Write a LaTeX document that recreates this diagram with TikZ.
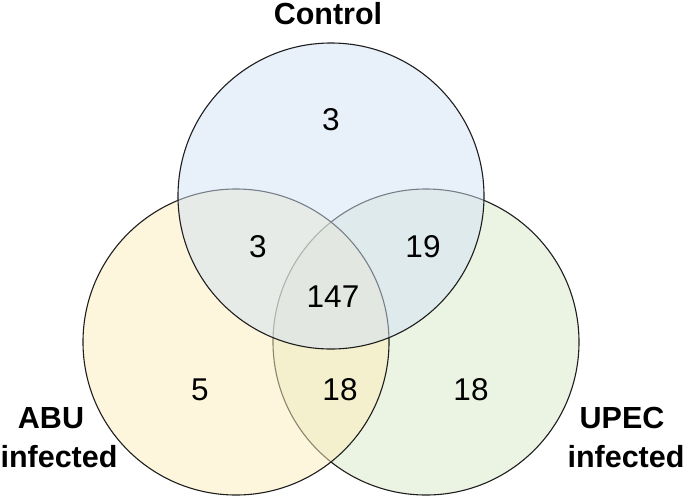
\documentclass[tikz,border=0pt]{standalone}
\usepackage{fontspec}
\setmainfont{Liberation Sans}
\usepackage{xcolor}
\usepackage{tikz}
\definecolor{ctlblue}{HTML}{D1E1F5}
\definecolor{abuyellow}{HTML}{FDEDB9}
\definecolor{upecgreen}{HTML}{D7E7C7}
\definecolor{rim}{HTML}{1E1E1E}
\tikzset{set/.style = {circle, draw=rim, line width=1.1pt, fill opacity=0.5, inner sep=0pt, minimum size=306pt}}

\begin{document}
\begin{tikzpicture}[x=1pt,y=-1pt,count/.style={font=\fontsize{31.5}{36}\selectfont,anchor=base},label node/.style={font=\bfseries\fontsize{30.5}{36}\selectfont,anchor=base}]
                    \useasboundingbox (0,0) rectangle (685,496);

                    \node[set, fill=upecgreen] (upec) at (426,342) {};
                    \node[set, fill=abuyellow] (abu) at (236,342) {};
                    \node[set, fill=ctlblue] (ctl) at (331,196) {};

                    \node[label node] (ctllab) at (328,24) {Control};
                    \node[label node] (abulab) at (51,428) {ABU};
                    \node[label node] (abuinf) at (59,467) {infected};
                    \node[label node] (upeclab) at (622,428) {UPEC};
                    \node[label node] (upecinf) at (626,467) {infected};

                    \node[count] (c) at (331,130) {3};
                    \node[count] (ca) at (258,257) {3};
                    \node[count] (cu) at (423,257) {19};
                    \node[count] (cau) at (333,307) {147};
                    \node[count] (a) at (200,400) {5};
                    \node[count] (au) at (340,400) {18};
                    \node[count] (u) at (471,400) {18};
                \end{tikzpicture}
\end{document}
